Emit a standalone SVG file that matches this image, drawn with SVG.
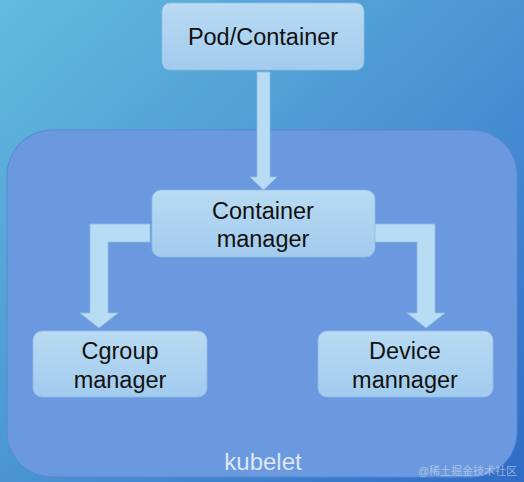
<svg xmlns="http://www.w3.org/2000/svg" width="524" height="482" viewBox="0 0 524 482">
<defs>
<linearGradient id="bg" x1="0" y1="0" x2="1" y2="1">
<stop offset="0" stop-color="#63bbdc"/>
<stop offset="0.5" stop-color="#4a95d4"/>
<stop offset="1" stop-color="#2f6cc6"/>
</linearGradient>
<linearGradient id="box" x1="0" y1="0" x2="0" y2="1">
<stop offset="0" stop-color="#b9dbf3"/>
<stop offset="1" stop-color="#a2cbee"/>
</linearGradient>
<style>
.node rect{fill:url(#box);stroke:#8fbbe4;stroke-width:0.8}
.lbl{font-family:"Liberation Sans",Arial,sans-serif;font-size:23.5px;fill:#111;text-anchor:middle}
.arr{fill:#b8dcf4;stroke:#8fbde4;stroke-width:0.8}
</style>
</defs>
<rect x="0" y="0" width="524" height="482" fill="url(#bg)"/>
<g id="kubelet">
<rect x="7" y="130" width="510" height="347" rx="45" fill="#6b99e0" stroke="#5a88d2" stroke-width="1"/>
<text x="263" y="470" font-family="'Liberation Sans',Arial,sans-serif" font-size="24" fill="#dde7f6" text-anchor="middle">kubelet</text>
</g>
<g id="connectors">
<polygon class="arr" points="257,72 270,72 270,177 277,177 263.5,190 250,177 257,177"/>
<polygon class="arr" points="150,224 150,242 108,242 108,313 118,313 99,328 80,313 90,313 90,224"/>
<polygon class="arr" points="374,224 374,242 417,242 417,313 407,313 426,328 445,313 435,313 435,224"/>
</g>
<g id="pod" class="node">
<rect x="162" y="3" width="202" height="67" rx="8"/>
<text class="lbl" x="263" y="45">Pod/Container</text>
</g>
<g id="container-manager" class="node">
<rect x="152" y="190" width="223" height="67" rx="9"/>
<text class="lbl" x="263" y="219">Container</text>
<text class="lbl" x="263" y="247">manager</text>
</g>
<g id="cgroup-manager" class="node">
<rect x="33" y="331" width="174" height="66" rx="9"/>
<text class="lbl" x="120" y="359">Cgroup</text>
<text class="lbl" x="120" y="388">manager</text>
</g>
<g id="device-manager" class="node">
<rect x="318" y="331" width="175" height="66" rx="9"/>
<text class="lbl" x="405" y="359">Device</text>
<text class="lbl" x="405" y="388">mannager</text>
</g>
<text x="517" y="475" font-family="'Liberation Sans','Noto Sans CJK SC',sans-serif" font-size="11" fill="#c8d4e6" fill-opacity="0.7" text-anchor="end">@稀土掘金技术社区</text>
</svg>
